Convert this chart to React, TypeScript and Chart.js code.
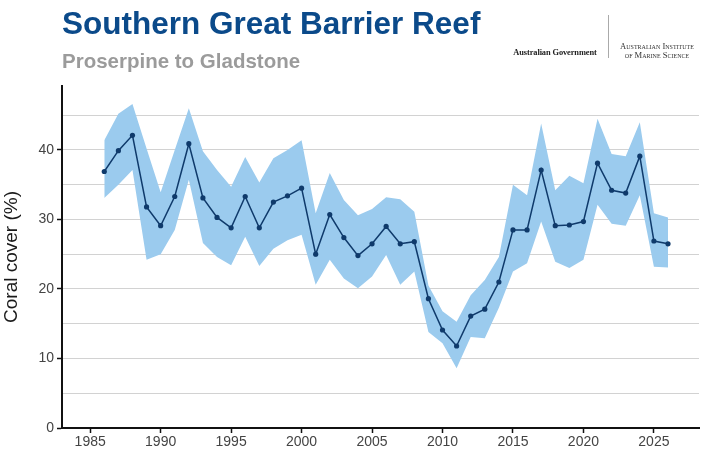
import { useEffect, useRef } from "react";
import { Chart, registerables } from "chart.js";

Chart.register(...registerables);

// survey years and coral cover estimates
const years = [
  1986, 1987, 1988, 1989, 1990, 1991, 1992, 1993, 1994, 1995,
  1996, 1997, 1998, 1999, 2000, 2001, 2002, 2003, 2004, 2005,
  2006, 2007, 2008, 2009, 2010, 2011, 2012, 2013, 2014, 2015,
  2016, 2017, 2018, 2019, 2020, 2021, 2022, 2023, 2024, 2025, 2026,
];

const coverMean = [
  36.9, 39.9, 42.1, 31.8, 29.1, 33.3, 40.9, 33.1, 30.3, 28.8,
  33.3, 28.8, 32.5, 33.4, 34.5, 25.0, 30.7, 27.4, 24.8, 26.5,
  29.0, 26.5, 26.8, 18.6, 14.1, 11.8, 16.1, 17.1, 21.0, 28.5,
  28.5, 37.1, 29.1, 29.2, 29.7, 38.1, 34.2, 33.8, 39.1, 26.9, 26.5,
];

const coverUpper = [
  41.4, 45.2, 46.6, 40.2, 33.9, 40.0, 46.0, 39.8, 37.1, 34.7,
  39.0, 35.3, 38.8, 40.0, 41.4, 30.9, 36.7, 32.8, 30.6, 31.5,
  33.2, 32.9, 31.1, 20.5, 16.8, 15.3, 19.1, 21.3, 24.6, 35.0,
  33.5, 43.8, 34.2, 36.3, 35.2, 44.5, 39.4, 39.1, 44.0, 30.9, 30.3,
];

const coverLower = [
  33.1, 35.0, 37.1, 24.2, 25.0, 28.5, 35.7, 26.6, 24.6, 23.4,
  27.5, 23.3, 25.8, 27.0, 27.8, 20.6, 24.2, 21.5, 20.1, 21.8,
  24.9, 20.6, 22.5, 13.8, 12.2, 8.6, 13.1, 12.9, 17.3, 22.5,
  23.7, 29.7, 23.9, 23.0, 24.2, 32.1, 29.4, 29.1, 33.5, 23.2, 23.1,
];

const xTickYears = [1985, 1990, 1995, 2000, 2005, 2010, 2015, 2020, 2025];
const yGridValues = [0, 5, 10, 15, 20, 25, 30, 35, 40, 45];
const yTickLabels = ["0", "", "10", "", "20", "", "30", "", "40", ""];

const SANS = "'Liberation Sans', Arial, sans-serif";
const SERIF = "'Liberation Serif', 'Times New Roman', serif";

const toPoints = (vals: number[]) => years.map((yr, i) => ({ x: yr, y: vals[i] }));

export default function App() {
  const chartRef = useRef<HTMLCanvasElement>(null);
  const chartInstance = useRef<Chart | null>(null);

  useEffect(() => {
    document.body.style.margin = "0";
    if (!chartRef.current) return;
    if (chartInstance.current) chartInstance.current.destroy();

    const ctx = chartRef.current.getContext("2d");
    if (!ctx) return;

    chartInstance.current = new Chart(ctx, {
      type: "line",
      data: {
        datasets: [
          {
            label: "Mean",
            data: toPoints(coverMean),
            borderColor: "#0f3a6b",
            backgroundColor: "#0f3a6b",
            borderWidth: 1.5,
            pointRadius: 2.6,
            pointBorderWidth: 0,
            tension: 0,
            fill: false,
          },
          {
            label: "Upper",
            data: toPoints(coverUpper),
            borderWidth: 0,
            pointRadius: 0,
            borderColor: "rgba(0,0,0,0)",
            tension: 0,
            fill: false,
          },
          {
            label: "Lower",
            data: toPoints(coverLower),
            borderWidth: 0,
            pointRadius: 0,
            borderColor: "rgba(0,0,0,0)",
            backgroundColor: "rgb(155, 203, 238)",
            tension: 0,
            fill: "-1",
          },
        ],
      },
      options: {
        responsive: true,
        maintainAspectRatio: false,
        animation: false,
        layout: { padding: { top: 86, right: 3, left: 0, bottom: 0 } },
        plugins: {
          legend: { display: false },
          tooltip: { enabled: false },
        },
        scales: {
          x: {
            type: "linear",
            min: 1983,
            max: 2028.2,
            afterBuildTicks: (axis: any) => {
              axis.ticks = xTickYears.map((v) => ({ value: v }));
            },
            afterFit: (axis: any) => {
              axis.height = 29;
            },
            border: { color: "#111", width: 2 },
            grid: {
              drawOnChartArea: false,
              tickLength: 5,
              tickColor: "#111",
              tickWidth: 1.5,
            },
            ticks: {
              color: "#444",
              font: { family: SANS, size: 14 },
              padding: 1,
              maxRotation: 0,
              autoSkip: false,
              callback: (value: any) => String(value),
            },
          },
          y: {
            min: 0,
            max: 49.2,
            afterBuildTicks: (axis: any) => {
              axis.ticks = yGridValues.map((v) => ({ value: v }));
            },
            afterFit: (axis: any) => {
              axis.width = 62;
            },
            border: { color: "#111", width: 2 },
            grid: {
              color: "#d2d2d2",
              lineWidth: 1,
              tickLength: 5,
              tickWidth: 1.5,
              tickColor: (c: any) => (yTickLabels[c.index] ? "#111" : "rgba(0,0,0,0)"),
            },
            ticks: {
              color: "#444",
              font: { family: SANS, size: 14 },
              padding: 3,
              autoSkip: false,
              callback: (_v: any, i: number) => yTickLabels[i],
            },
            title: {
              display: true,
              text: "Coral cover (%)",
              color: "#1a1a1a",
              font: { family: SANS, size: 19 },
              padding: 0,
            },
          },
        },
      },
    });

    return () => {
      if (chartInstance.current) {
        chartInstance.current.destroy();
        chartInstance.current = null;
      }
    };
  }, []);

  return (
    <div style={{ position: "relative", width: 703, height: 457, background: "#fff", overflow: "hidden" }}>
      <div style={{ position: "absolute", left: 0, top: 0, width: 703, height: 457 }}>
        <canvas ref={chartRef}></canvas>
      </div>
      <div
        style={{
          position: "absolute", left: 62, top: 8, fontFamily: SANS, fontWeight: 700,
          fontSize: 31.5, lineHeight: 1, color: "#0b4a8a", whiteSpace: "nowrap",
        }}
      >
        Southern Great Barrier Reef
      </div>
      <div
        style={{
          position: "absolute", left: 62, top: 51, fontFamily: SANS, fontWeight: 700,
          fontSize: 20.5, lineHeight: 1, color: "#9b9b9b", whiteSpace: "nowrap",
        }}
      >
        Proserpine to Gladstone
      </div>
      <div
        style={{
          position: "absolute", left: 505, top: 49, width: 100, textAlign: "center",
          fontFamily: SERIF, fontWeight: 700, fontSize: 8.4, lineHeight: 1, color: "#222",
          whiteSpace: "nowrap", letterSpacing: -0.1,
        }}
      >
        Australian Government
      </div>
      <div style={{ position: "absolute", left: 608, top: 15, width: 1, height: 43, background: "#aaa" }} />
      <div
        style={{
          position: "absolute", left: 616, top: 42, width: 82, textAlign: "center",
          fontFamily: SERIF, fontSize: 8.6, lineHeight: "9px", color: "#333",
          fontVariant: "small-caps", whiteSpace: "nowrap",
        }}
      >
        Australian Institute
        <br />
        of Marine Science
      </div>
    </div>
  );
}
